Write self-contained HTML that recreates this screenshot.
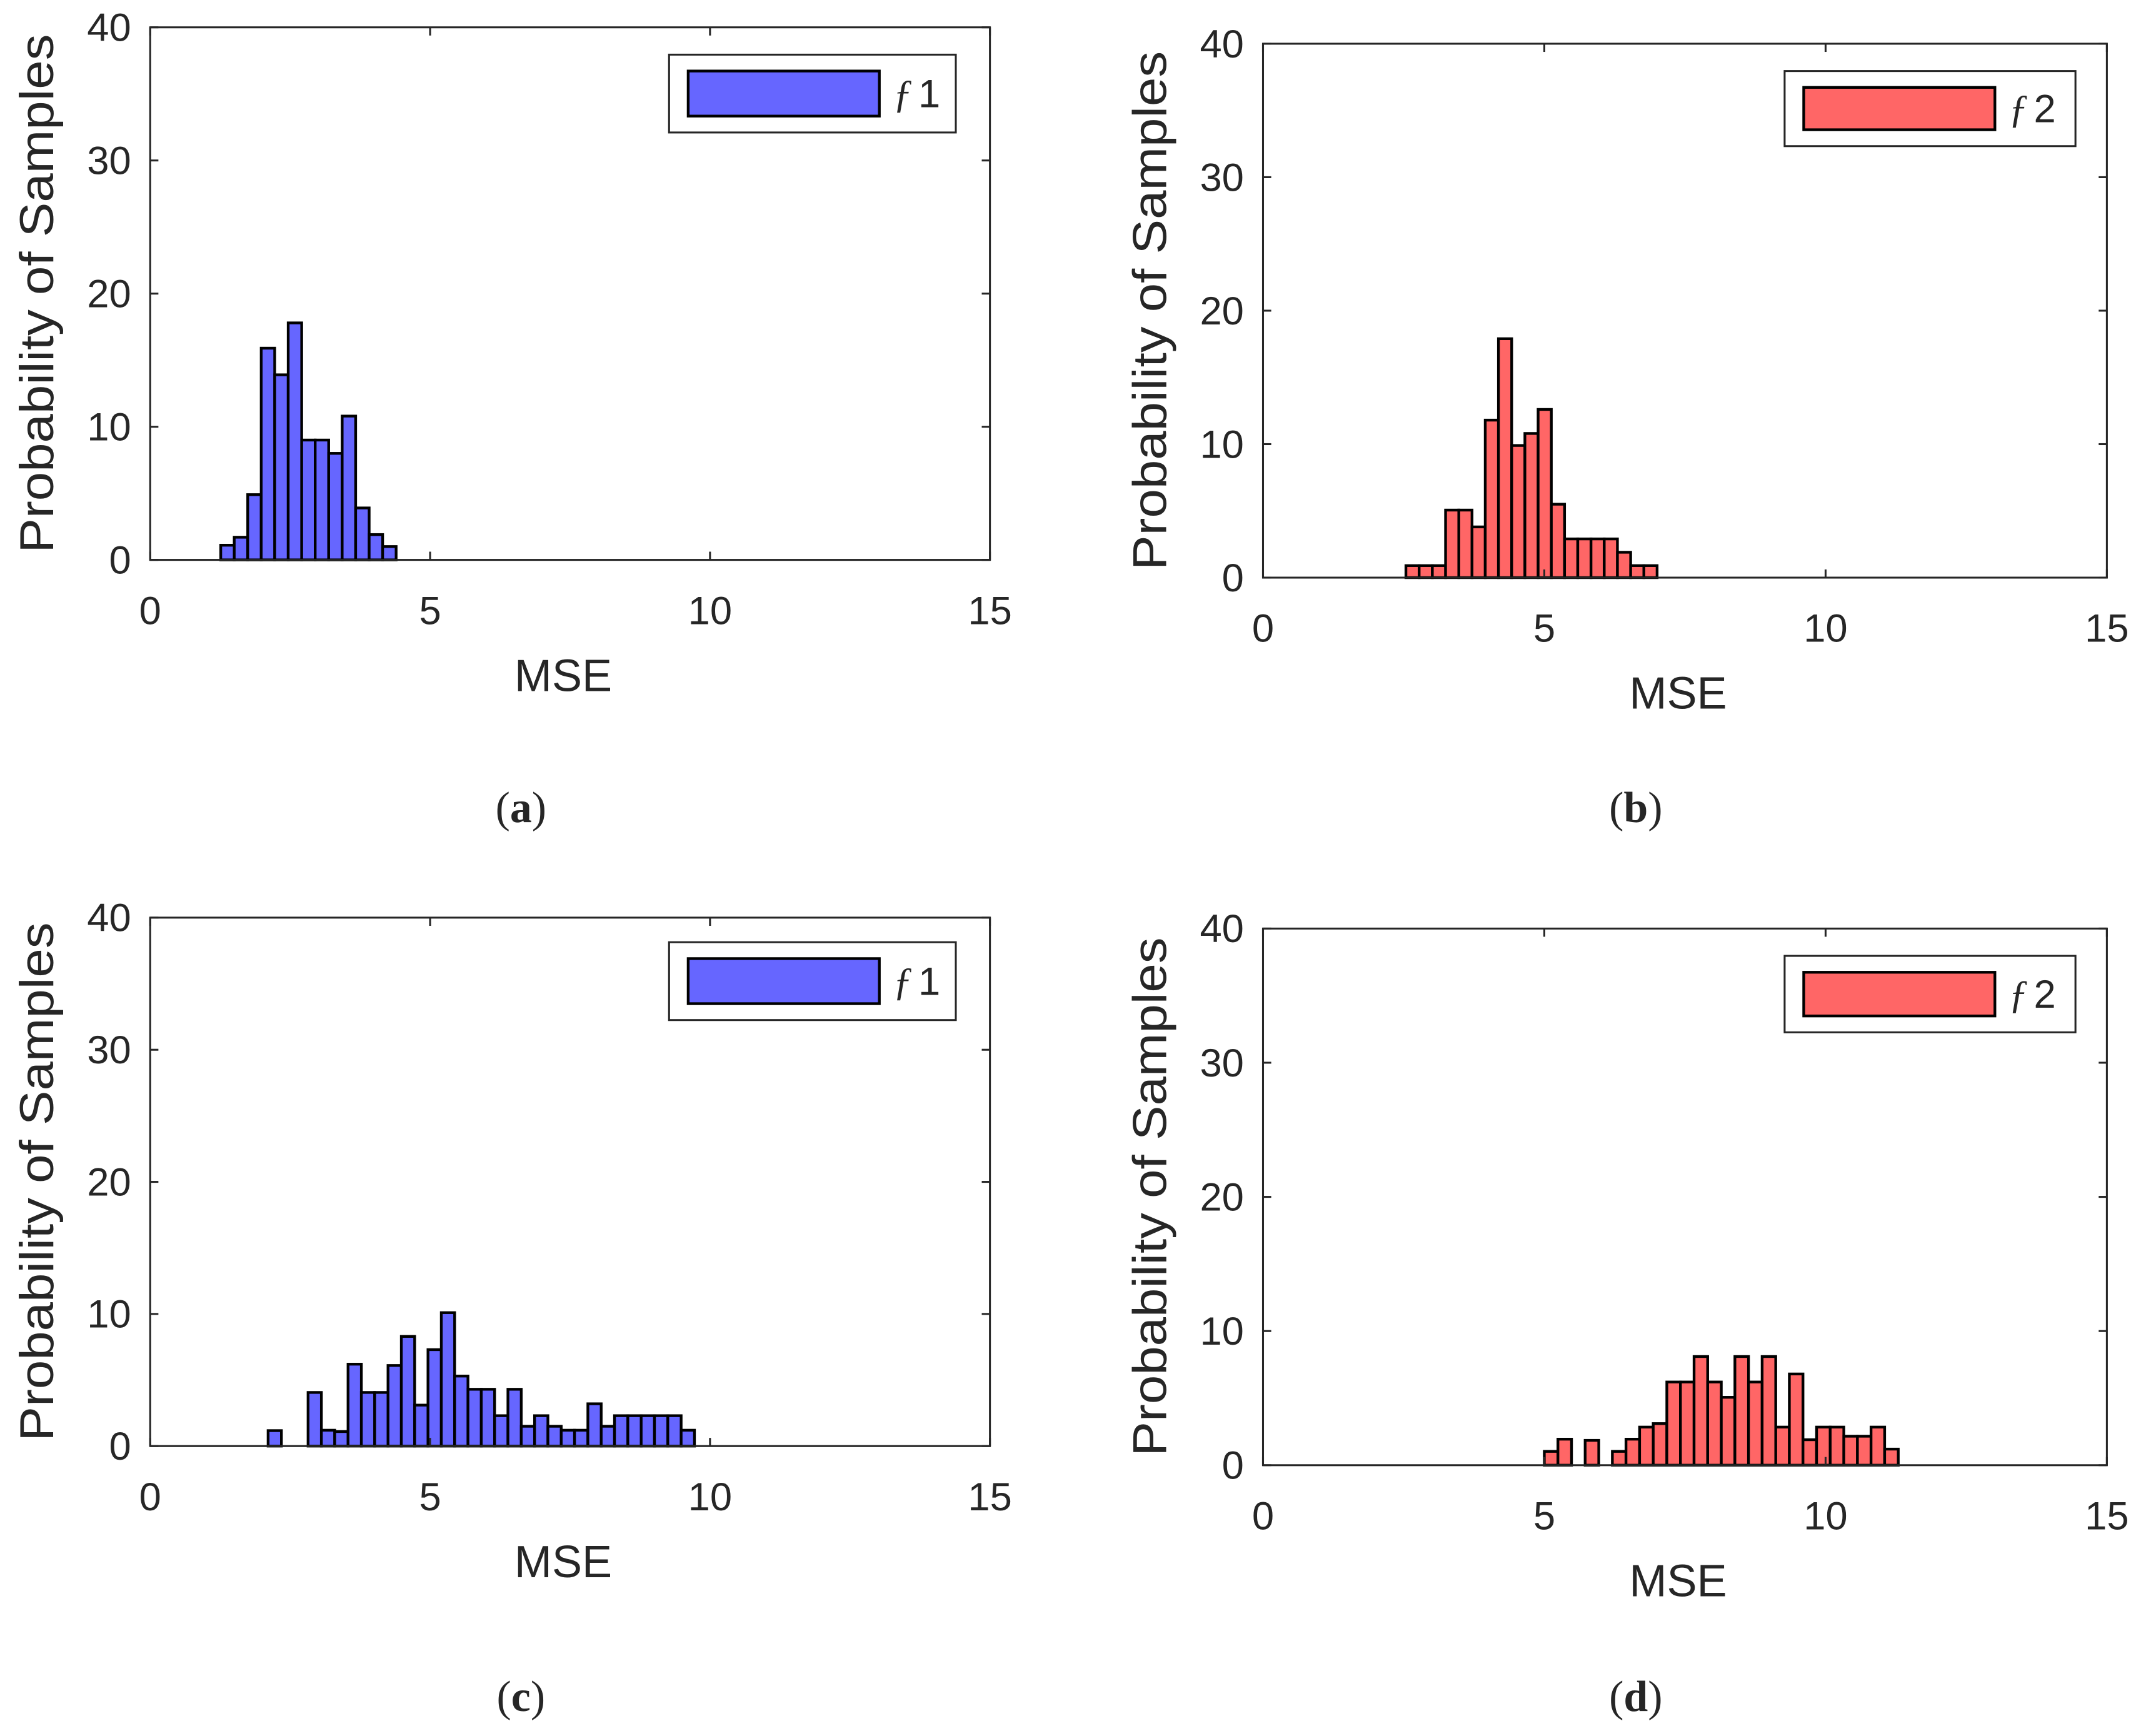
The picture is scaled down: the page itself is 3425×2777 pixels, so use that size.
<!DOCTYPE html>
<html><head><meta charset="utf-8"><style>
html,body{margin:0;padding:0;background:#fff;}
svg{display:block;}
text{font-family:"Liberation Sans",sans-serif;fill:#262626;}
</style></head><body>
<svg id="fig" width="3425" height="2777" viewBox="0 0 1568 1271.3" xmlns="http://www.w3.org/2000/svg"></svg>
<script>
// Panel data (bin start, bin width, values as probability %)
const xTicks = [0, 5, 10, 15];
const yTicks = [0, 10, 20, 30, 40];
const aStart = 1.26, aWidth = 0.241;
const aValues = [1.1, 1.7, 4.9, 15.9, 13.9, 17.8, 9.0, 9.0, 8.0, 10.8, 3.9, 1.9, 1.0];
const bStart = 2.54, bWidth = 0.235;
const bValues = [0.9, 0.9, 0.9, 5.06, 5.06, 3.8, 11.8, 17.9, 9.9, 10.8, 12.6, 5.5, 2.9, 2.9, 2.9, 2.9, 1.9, 0.9, 0.9];
const cStart = 2.106, cWidth = 0.238;
const cValues = [1.17, 0, 0, 4.06, 1.2, 1.1, 6.2, 4.06, 4.06, 6.1, 8.3, 3.1, 7.3, 10.1, 5.3, 4.3, 4.3, 2.3, 4.3, 1.5, 2.3, 1.5, 1.2, 1.2, 3.2, 1.5, 2.3, 2.3, 2.3, 2.3, 2.3, 1.2];
const dStart = 5.0, dWidth = 0.242;
const dValues = [1.03, 1.94, 0, 1.85, 0, 1.03, 1.94, 2.84, 3.1, 6.2, 6.2, 8.1, 6.2, 5.06, 8.1, 6.2, 8.1, 2.84, 6.8, 1.9, 2.84, 2.84, 2.16, 2.16, 2.84, 1.2];

const NS = "http://www.w3.org/2000/svg";
const svg = document.getElementById('fig');
function mk(tag, attrs, parent, txt){
  const e = document.createElementNS(NS, tag);
  for (const k in attrs) e.setAttribute(k, attrs[k]);
  if (txt !== undefined) e.textContent = txt;
  (parent || svg).appendChild(e);
  return e;
}
const panels = [
  {id:'a', L:110, R:725, T:20, B:410, start:aStart, width:aWidth, vals:aValues, color:'#6666ff', leg:[490,40,210,57], label:'1', cap:'a'},
  {id:'b', L:925, R:1543, T:32, B:423, start:bStart, width:bWidth, vals:bValues, color:'#ff6666', leg:[1307,52,213,55], label:'2', cap:'b'},
  {id:'c', L:110, R:725, T:672, B:1059, start:cStart, width:cWidth, vals:cValues, color:'#6666ff', leg:[490,690,210,57], label:'1', cap:'c'},
  {id:'d', L:925, R:1543, T:680, B:1073, start:dStart, width:dWidth, vals:dValues, color:'#ff6666', leg:[1307,700,213,56], label:'2', cap:'d'}
];
panels.forEach(p => {
  const g = mk('g', {});
  
  
  const xs = v => p.L + (v - 0) / 15 * (p.R - p.L);
  const ys = v => p.B - v / 40 * (p.B - p.T);
  p.vals.forEach((v, i) => {
    if (v <= 0) return;
    const x0 = xs(p.start + i * p.width), x1 = xs(p.start + (i + 1) * p.width);
    const r = mk('rect', {x:x0, y:ys(v), width:x1 - x0, height:p.B - ys(v), fill:p.color, stroke:'#000', 'stroke-width':2}, g);
    
    
  });
  const box = mk('rect', {x:p.L, y:p.T, width:p.R - p.L, height:p.B - p.T, fill:'none', stroke:'#262626', 'stroke-width':1.4}, g);
  
  
  xTicks.forEach(t => {
    const x = xs(t);
    mk('line', {x1:x, x2:x, y1:p.B, y2:p.B - 6, stroke:'#262626', 'stroke-width':1.4}, g);
    mk('line', {x1:x, x2:x, y1:p.T, y2:p.T + 6, stroke:'#262626', 'stroke-width':1.4}, g);
    const tl = mk('text', {x:x, y:p.B + 47, 'text-anchor':'middle', 'font-size':29}, g, String(t));
    
    
  });
  yTicks.forEach(t => {
    const y = ys(t);
    mk('line', {x1:p.L, x2:p.L + 6, y1:y, y2:y, stroke:'#262626', 'stroke-width':1.4}, g);
    mk('line', {x1:p.R, x2:p.R - 6, y1:y, y2:y, stroke:'#262626', 'stroke-width':1.4}, g);
    const tl = mk('text', {x:p.L - 14, y:y + 10, 'text-anchor':'end', 'font-size':29}, g, String(t));
    
    
  });
  const xt = mk('text', {x:(p.L + p.R) / 2 - 5, y:p.B + 96, 'text-anchor':'middle', 'font-size':33}, g, 'MSE');
  
  
  const cy = (p.T + p.B) / 2;
  const yt = mk('text', {x:0, y:0, 'text-anchor':'middle', 'font-size':35, textLength:380, lengthAdjust:'spacingAndGlyphs', transform:'translate(' + (p.L - 71) + ',' + (cy) + ') rotate(-90)'}, g, 'Probability of Samples');
  
  
  const [lx, ly, lw, lh] = p.leg;
  const lg = mk('g', {}, g);
  
  
  mk('rect', {x:lx, y:ly, width:lw, height:lh, fill:'#fff', stroke:'#262626', 'stroke-width':1.4}, lg);
  const sw = mk('rect', {x:lx + 14, y:ly + 12, width:140, height:lh - 24, fill:p.color, stroke:'#000', 'stroke-width':2}, lg);
  
  
  const lt = mk('text', {x:lx + 164, y:ly + lh / 2 + 10, 'font-size':29}, lg);
  
  
  mk('tspan', {'font-family':'Liberation Serif, serif', 'font-style':'italic'}, lt, 'ƒ');
  mk('tspan', {dx:4}, lt, p.label);
  const cap = mk('text', {x:(p.L + p.R) / 2 - 36, y:(p.id === 'a' || p.id === 'b') ? 602 : 1253, 'text-anchor':'middle', 'font-size':32, fill:'#000'}, svg);
  
  
  cap.style.fontFamily = '"Liberation Serif", serif';
  mk('tspan', {}, cap, '(');
  mk('tspan', {'font-weight':'bold'}, cap, p.cap);
  mk('tspan', {}, cap, ')');
});
</script>
</body></html>
